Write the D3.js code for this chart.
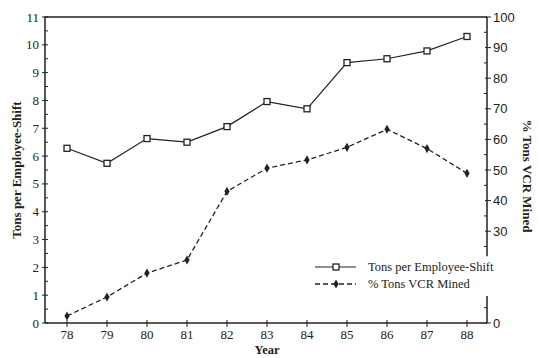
<!DOCTYPE html>
<html>
<head>
<meta charset="utf-8">
<script src="https://cdn.jsdelivr.net/npm/d3@7"></script>
<style>
body { margin: 0; background: #fff; }
</style>
</head>
<body>
<script>
var years = [78, 79, 80, 81, 82, 83, 84, 85, 86, 87, 88];
var tonsPerShift = [6.28, 5.74, 6.63, 6.5, 7.06, 7.96, 7.7, 9.36, 9.5, 9.78, 10.3];
var pctVCR = [2.3, 8.5, 16.3, 20.6, 43, 50.6, 53.3, 57.4, 63.3, 57, 48.9];
var leftTicks = d3.range(0, 12);
var rightTicks = [0, 30, 40, 50, 60, 70, 80, 90, 100];

var width = 538, height = 358;
var plotL = 45, plotR = 487, plotT = 17, plotB = 323;

var svg = d3.select("body").append("svg")
    .attr("width", width)
    .attr("height", height);

var x = d3.scaleLinear().domain([77.45, 88.5]).range([plotL, plotR]);
var yL = d3.scaleLinear().domain([0, 11]).range([plotB, plotT]);
var yR = d3.scaleLinear().domain([0, 100]).range([plotB, plotT]);

var serif = "'Liberation Serif', 'DejaVu Serif', serif";
var sans = "'Liberation Sans', Arial, sans-serif";
var ink = "#222";

// frame: left axis, top line, bottom axis
svg.append("path")
    .attr("d", "M" + plotL + "," + plotB + "V" + plotT + "H" + plotR)
    .attr("fill", "none").attr("stroke", ink).attr("stroke-width", 1.5);
svg.append("line")
    .attr("x1", plotL).attr("x2", plotR)
    .attr("y1", plotB).attr("y2", plotB)
    .attr("stroke", ink).attr("stroke-width", 1.5);

// right axis, broken where the legend sits
[[0, 8.8], [21.8, 100]].forEach(function(seg) {
    svg.append("line")
        .attr("x1", plotR).attr("x2", plotR)
        .attr("y1", yR(seg[0])).attr("y2", yR(seg[1]))
        .attr("stroke", ink).attr("stroke-width", 1.5);
});

// left axis ticks
var gL = svg.append("g").attr("font-family", serif).attr("font-size", 13).attr("fill", ink);
leftTicks.forEach(function(t) {
    gL.append("line").attr("x1", plotL - 3).attr("x2", plotL + 3)
        .attr("y1", yL(t)).attr("y2", yL(t)).attr("stroke", ink);
    gL.append("text").attr("x", plotL - 6).attr("y", yL(t) + 4.5)
        .attr("text-anchor", "end").text(t);
});
d3.range(0.5, 11, 1).forEach(function(t) {
    gL.append("line").attr("x1", plotL).attr("x2", plotL + 3)
        .attr("y1", yL(t)).attr("y2", yL(t)).attr("stroke", ink);
});

// right axis ticks
var gR = svg.append("g").attr("font-family", sans).attr("font-size", 13).attr("fill", ink);
rightTicks.forEach(function(t) {
    gR.append("line").attr("x1", plotR - 2).attr("x2", plotR + 4)
        .attr("y1", yR(t)).attr("y2", yR(t)).attr("stroke", ink);
    gR.append("text").attr("x", plotR + 6).attr("y", yR(t) + 4.5).text(t);
});
[5, 25, 35, 45, 55, 65, 75, 85, 95].forEach(function(t) {
    gR.append("line").attr("x1", plotR - 3).attr("x2", plotR)
        .attr("y1", yR(t)).attr("y2", yR(t)).attr("stroke", ink);
});

// x axis ticks
var gX = svg.append("g").attr("font-family", serif).attr("font-size", 13).attr("fill", ink);
years.forEach(function(yr) {
    gX.append("line").attr("x1", x(yr)).attr("x2", x(yr))
        .attr("y1", plotB - 3).attr("y2", plotB + 4).attr("stroke", ink);
    gX.append("text").attr("x", x(yr)).attr("y", plotB + 15.5)
        .attr("text-anchor", "middle").text(yr);
});

// axis titles
svg.append("text").attr("x", 267).attr("y", 354)
    .attr("text-anchor", "middle").attr("font-family", serif)
    .attr("font-weight", "bold").attr("font-size", 12.5).attr("fill", ink).text("Year");
svg.append("text")
    .attr("transform", "translate(21,170) rotate(-90)")
    .attr("text-anchor", "middle").attr("font-family", serif)
    .attr("font-weight", "bold").attr("font-size", 13).attr("fill", ink)
    .text("Tons per Employee-Shift");
svg.append("text")
    .attr("transform", "translate(523,176) rotate(90)")
    .attr("text-anchor", "middle").attr("font-family", serif)
    .attr("font-weight", "bold").attr("font-size", 13).attr("fill", ink)
    .text("% Tons VCR Mined");

// series
var lineL = d3.line().x(function(d, i) { return x(years[i]); }).y(function(d) { return yL(d); });
var lineR = d3.line().x(function(d, i) { return x(years[i]); }).y(function(d) { return yR(d); });

svg.append("path").attr("d", lineR(pctVCR))
    .attr("fill", "none").attr("stroke", ink).attr("stroke-width", 1.3)
    .attr("stroke-dasharray", "5,3");
svg.selectAll(".dia").data(pctVCR).enter().append("path")
    .attr("class", "dia")
    .attr("transform", function(d, i) { return "translate(" + x(years[i]) + "," + yR(d) + ")"; })
    .attr("d", d3.symbol().type(d3.symbolDiamond).size(24))
    .attr("fill", ink);

svg.append("path").attr("d", lineL(tonsPerShift))
    .attr("fill", "none").attr("stroke", ink).attr("stroke-width", 1.2);
svg.selectAll(".sq").data(tonsPerShift).enter().append("rect")
    .attr("class", "sq")
    .attr("x", function(d, i) { return x(years[i]) - 3; })
    .attr("y", function(d) { return yL(d) - 3; })
    .attr("width", 6).attr("height", 6)
    .attr("fill", "#fff").attr("stroke", ink).attr("stroke-width", 1.3);

// legend
var leg = svg.append("g").attr("font-family", serif).attr("font-size", 12.5).attr("fill", ink);
leg.append("line").attr("x1", 315).attr("x2", 356).attr("y1", 267).attr("y2", 267)
    .attr("stroke", ink).attr("stroke-width", 1.2);
leg.append("rect").attr("x", 333).attr("y", 264).attr("width", 6).attr("height", 6)
    .attr("fill", "#fff").attr("stroke", ink).attr("stroke-width", 1.3);
leg.append("text").attr("x", 368).attr("y", 271).text("Tons per Employee-Shift");
leg.append("line").attr("x1", 315).attr("x2", 356).attr("y1", 284).attr("y2", 284)
    .attr("stroke", ink).attr("stroke-width", 1.3).attr("stroke-dasharray", "5,3");
leg.append("path").attr("transform", "translate(336,284)")
    .attr("d", d3.symbol().type(d3.symbolDiamond).size(24)).attr("fill", ink);
leg.append("text").attr("x", 368).attr("y", 288).text("% Tons VCR Mined");
</script>
</body>
</html>
